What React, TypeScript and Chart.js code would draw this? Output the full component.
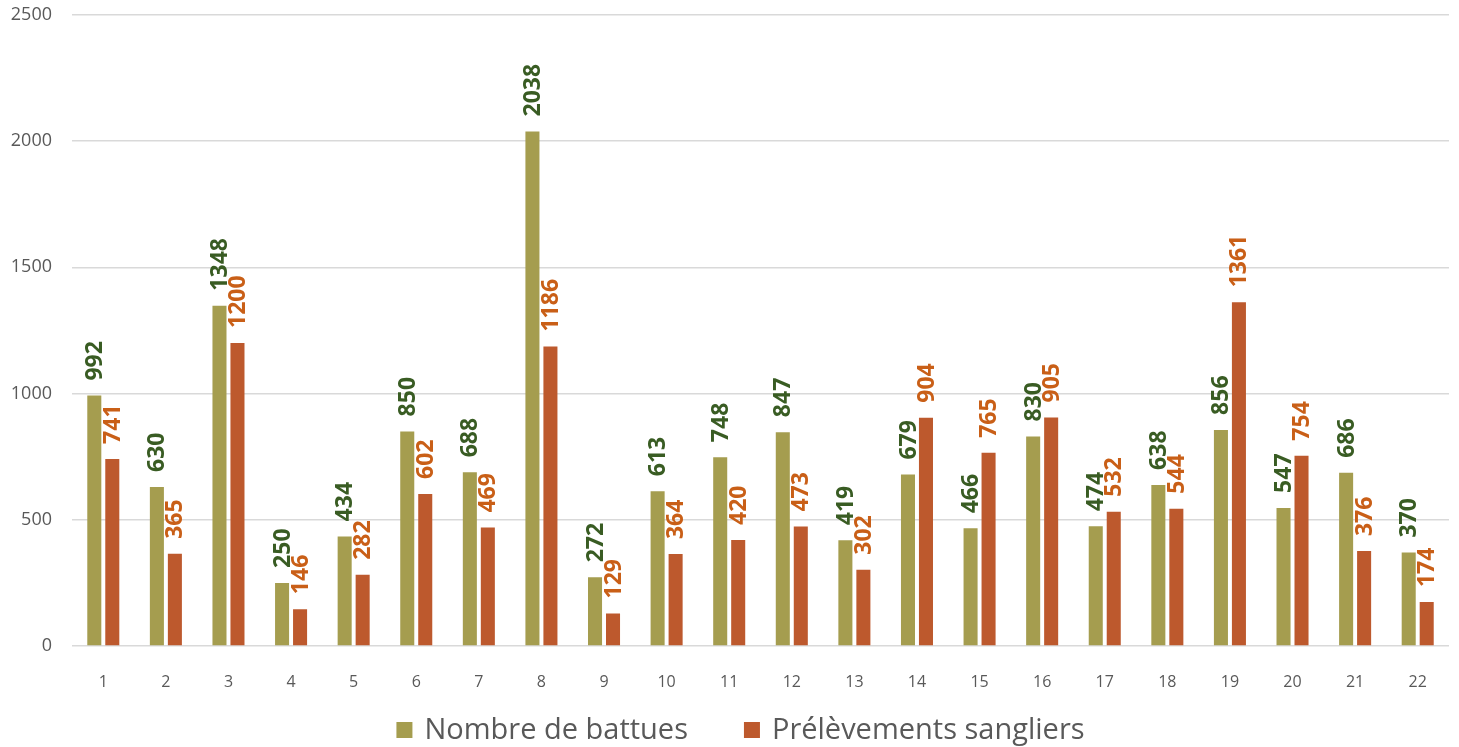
import React, { useEffect, useRef } from "react";
import { Chart, registerables } from "chart.js";

Chart.register(...registerables);

const categories = ["1","2","3","4","5","6","7","8","9","10","11","12","13","14","15","16","17","18","19","20","21","22"];
const battues = [992,630,1348,250,434,850,688,2038,272,613,748,847,419,679,466,830,474,638,856,547,686,370];
const prelevements = [741,365,1200,146,282,602,469,1186,129,364,420,473,302,904,765,905,532,544,1361,754,376,174];
const seriesNames = ["Nombre de battues", "Prélèvements sangliers"];
const barColors = ["#A59D4F", "#BD592D"];
const labelColors = ["#395C23", "#C95F17"];
const FONT = "'Open Sans', 'DejaVu Sans', sans-serif";
const SHIFT = 16;

const valueLabels = {
  id: "valueLabels",
  afterDatasetsDraw(chart: any) {
    const ctx = chart.ctx;
    chart.data.datasets.forEach((ds: any, di: number) => {
      const meta = chart.getDatasetMeta(di);
      meta.data.forEach((bar: any, i: number) => {
        ctx.save();
        ctx.translate(bar.x, bar.y - 15);
        ctx.rotate(-Math.PI / 2);
        ctx.font = "bold 23px " + FONT;
        ctx.fillStyle = labelColors[di];
        ctx.textAlign = "left";
        ctx.textBaseline = "middle";
        ctx.fillText(String(ds.data[i]), 0, 1);
        ctx.restore();
      });
    });
  },
};

const customLegend = {
  id: "customLegend",
  afterDraw(chart: any) {
    const ctx = chart.ctx;
    ctx.save();
    ctx.font = "29px " + FONT;
    const box = 16;
    const gapText = 12;
    const gapItems = 56;
    const widths = chart.data.datasets.map((d: any) => box + gapText + ctx.measureText(d.label).width);
    const total = widths.reduce((a: number, b: number) => a + b, 0) + gapItems * (widths.length - 1);
    let x = (chart.width - total) / 2 + 11;
    const cy = 730 + SHIFT;
    chart.data.datasets.forEach((d: any, i: number) => {
      ctx.fillStyle = d.backgroundColor;
      ctx.fillRect(x, cy - box / 2, box, box);
      ctx.fillStyle = "#595959";
      ctx.textAlign = "left";
      ctx.textBaseline = "middle";
      ctx.fillText(d.label, x + box + gapText, cy + 1);
      x += widths[i] + gapItems;
    });
    ctx.restore();
  },
};

export default function App() {
  const ref = useRef<HTMLCanvasElement>(null);
  useEffect(() => {
    document.body.style.margin = "0";
    const chart = new Chart(ref.current!, {
      type: "bar",
      data: {
        labels: categories,
        datasets: [
          { label: seriesNames[0], data: battues, backgroundColor: barColors[0], categoryPercentage: 0.575, barPercentage: 0.78 },
          { label: seriesNames[1], data: prelevements, backgroundColor: barColors[1], categoryPercentage: 0.575, barPercentage: 0.78 },
        ],
      },
      options: {
        animation: false,
        responsive: false,
        maintainAspectRatio: false,
        layout: { padding: { top: 0, right: 10, left: 0, bottom: 51 } },
        plugins: {
          tooltip: { enabled: false },
          legend: { display: false },
        },
        scales: {
          x: {
            afterFit: (s: any) => { s.height = 50; },
            grid: { display: false },
            border: { display: false },
            ticks: { font: { family: FONT, size: 16 }, color: "#595959", padding: 19 },
          },
          y: {
            min: 0,
            max: 2500,
            afterFit: (s: any) => { s.width = 72; },
            grid: { color: "#D9D9D9", lineWidth: 1.5, drawTicks: false },
            border: { display: false },
            ticks: {
              stepSize: 500,
              font: { family: FONT, size: 18 },
              color: "#595959",
              padding: 20,
              callback: (v: any) => String(v),
            },
          },
        },
      },
      plugins: [valueLabels, customLegend],
    });
    return () => chart.destroy();
  }, []);
  return (
    <div style={{ width: 1459, height: 747, overflow: "hidden", position: "relative" }}>
      <canvas
        ref={ref}
        width={1459}
        height={747 + SHIFT}
        style={{ position: "absolute", left: 0, top: -SHIFT }}
      />
    </div>
  );
}
